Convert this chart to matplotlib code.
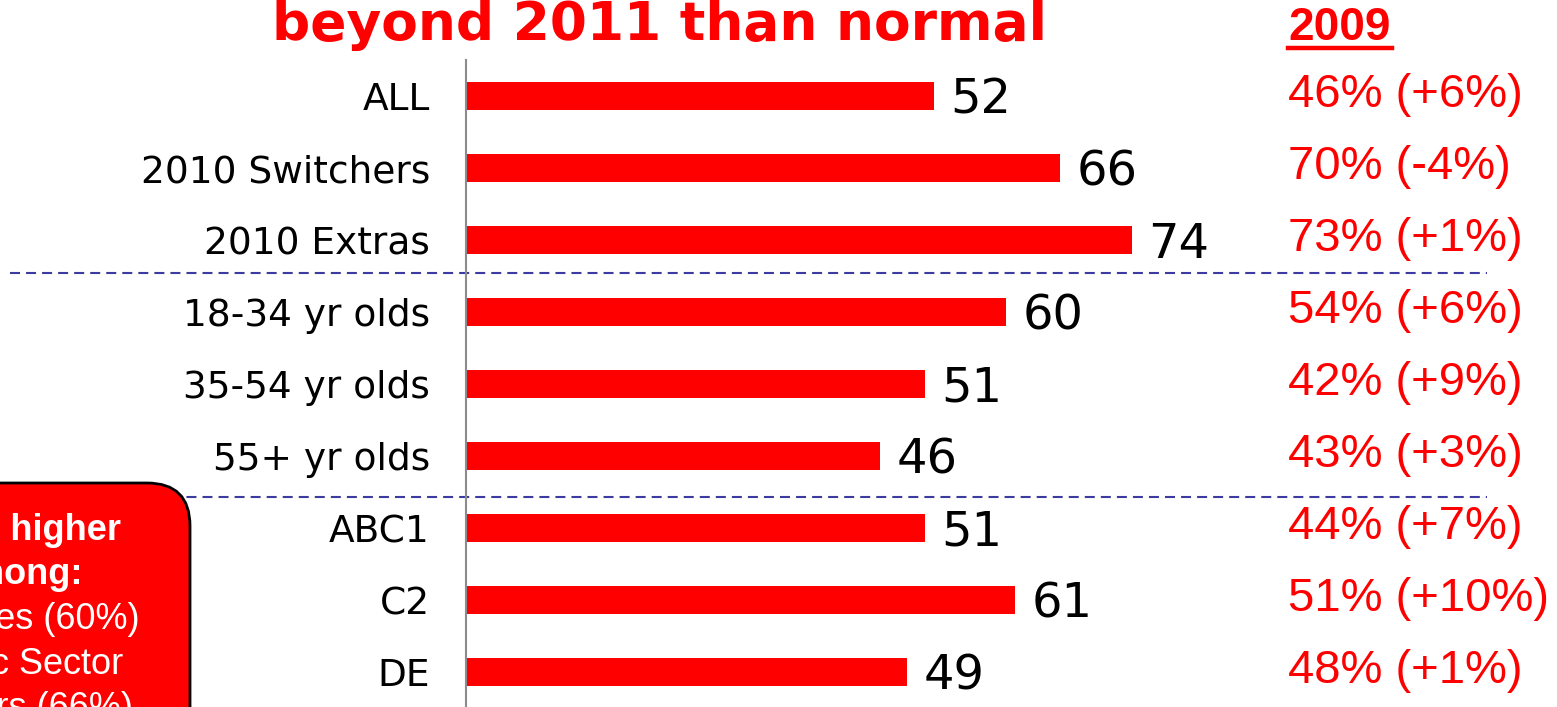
import matplotlib
matplotlib.use("Agg")
import matplotlib.pyplot as plt
from matplotlib.patches import FancyBboxPatch
from matplotlib.lines import Line2D

# data
categories = ["ALL", "2010 Switchers", "2010 Extras",
              "18-34 yr olds", "35-54 yr olds", "55+ yr olds",
              "ABC1", "C2", "DE"]
values_2011 = [52, 66, 74, 60, 51, 46, 51, 61, 49]
values_2009 = [46, 70, 73, 54, 42, 43, 44, 51, 48]
title = "beyond 2011 than normal"
col_header = "2009"
callout_lines = ["Even higher", "among:", "Females (60%)", "Public Sector", "workers (66%)"]

RED = "#ff0000"
W, H = 1557, 707

fig = plt.figure(figsize=(W / 100, H / 100), dpi=100)
ax = fig.add_axes([466 / W, 0, (W - 466) / W, 1])

ypos = list(range(len(categories)))
ax.barh(ypos, values_2011, height=0.40, color=RED, zorder=2)

ax.set_xlim(0, (W - 466) / 9)
ax.set_ylim((H - 96) / 72, -96 / 72)

for s in ["top", "right", "bottom"]:
    ax.spines[s].set_visible(False)
ax.spines["left"].set_color("#8c8c8c")
ax.spines["left"].set_linewidth(1.5)
ax.spines["left"].set_bounds((H - 96) / 72, -0.5)

ax.set_xticks([])
ax.set_yticks(ypos)
ax.set_yticklabels(categories, fontsize=27, family="DejaVu Sans")
ax.tick_params(axis="y", length=0, pad=26)

# value labels next to bars
for y, v in zip(ypos, values_2011):
    ax.text(v + 1.8, y + 0.06, str(v), fontsize=34.5, va="center", ha="left",
            color="black", family="DejaVu Sans")

# 2009 column with change
for y, v, p in zip(ypos, values_2011, values_2009):
    ax.text((1288 - 466) / 9, y - 0.02, f"{p}% ({v - p:+d}%)", fontsize=34,
            va="center", ha="left", color=RED, family="Liberation Sans",
            clip_on=False)

# group dividers
for yd in [2.465, 5.576]:
    ax.plot([-50.7, 113.4], [yd, yd], color="#3c3ca0", lw=1.5,
            ls=(0, (4.8, 2.9)), clip_on=False, zorder=1)

# title (cut by the top of the slide)
fig.text(272 / W, 1 - 40 / H, title, fontsize=38.4, fontweight="bold",
         color=RED, family="DejaVu Sans", va="baseline", ha="left")

# column header, underlined
fig.text(1288 / W, 1 - 40 / H, col_header, fontsize=33, fontweight="bold",
         color=RED, family="Liberation Sans", va="baseline", ha="left")
fig.add_artist(Line2D([1288 / W, 1392 / W], [1 - 48 / H] * 2,
                      color=RED, lw=3.2, transform=fig.transFigure))

# callout box at bottom left
box = FancyBboxPatch((-200, -60), 390, H - 483 + 60,
                     boxstyle="round,pad=0,rounding_size=43",
                     facecolor=RED, edgecolor="black", lw=2,
                     transform=None, zorder=5)
fig.add_artist(box)
line_y = [540, 584, 629, 674, 718]
for i, (txt, yy) in enumerate(zip(callout_lines, line_y)):
    fig.text(17 / W, 1 - yy / H, txt, fontsize=26, color="white",
             fontweight="bold" if i < 2 else "normal",
             family="Liberation Sans", ha="center", va="baseline", zorder=6)

fig.savefig("out.png", dpi=100)
